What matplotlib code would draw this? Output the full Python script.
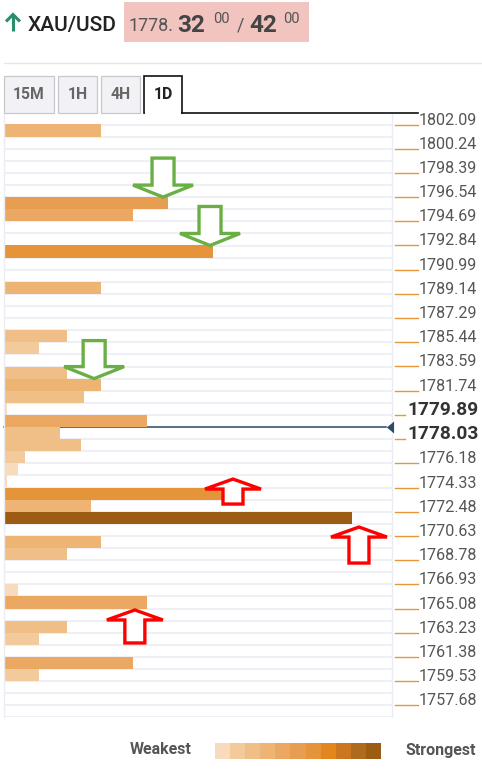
import math
import matplotlib
matplotlib.use("Agg")
import matplotlib.pyplot as plt
from matplotlib.patches import Rectangle, Polygon
from matplotlib.lines import Line2D
import matplotlib.transforms as mtransforms

plt.rcParams['font.family'] = ['Roboto', 'DejaVu Sans']

# price scale labels (top to bottom)
price_labels = [1802.09, 1800.24, 1798.39, 1796.54, 1794.69, 1792.84, 1790.99,
                1789.14, 1787.29, 1785.44, 1783.59, 1781.74, 1779.89, 1778.03,
                1776.18, 1774.33, 1772.48, 1770.63, 1768.78, 1766.93, 1765.08,
                1763.23, 1761.38, 1759.53, 1757.68]
bold_labels = [1779.89, 1778.03]
current_price = 1778.96

# confluence levels: mid price of each band and its strength score (0-100)
level_prices = [1801.63, 1796.08, 1795.15, 1792.38, 1789.60, 1785.90, 1784.97,
                1783.12, 1782.20, 1781.27, 1780.35, 1779.42, 1778.50, 1777.57,
                1776.65, 1775.72, 1774.80, 1773.87, 1772.95, 1772.02, 1770.17,
                1769.25, 1766.47, 1765.54, 1763.69, 1762.77, 1760.92, 1759.99]
level_scores = [28, 47, 37, 60, 28, 18, 10,
                18, 28, 23, 1, 41, 16, 22,
                6, 4, 1, 63, 25, 100, 28,
                18, 4, 41, 18, 10, 37, 10]

# annotation arrows: (score at tip, price at tip, direction, length px)
arrows = [(45.7, 1796.54, 'down', 39), (59.2, 1792.84, 'down', 39),
          (25.9, 1782.66, 'down', 38), (65.8, 1774.98, 'up', 25),
          (102.0, 1771.31, 'up', 36), (37.6, 1764.97, 'up', 33)]

palette = ['#F8DBBC', '#F3CA9C', '#F0BF88', '#EDB474', '#EAA862', '#E89E50',
           '#E6943A', '#E3861E', '#CC7720', '#B06A1C', '#9C5C14']

W, H = 482, 770
fig = plt.figure(figsize=(W / 100, H / 100), dpi=100)

top_px, bot_px, left_px, right_px = 113, 717.4, 4, 392
ax = fig.add_axes([left_px / W, (H - bot_px) / H, (right_px - left_px) / W,
                   (bot_px - top_px) / H])

row = (price_labels[0] - price_labels[-1]) / 48
n_rows = 49
y_bottom = price_labels[0] - row * n_rows
y_top = price_labels[0] + row * (124.5 - top_px) / 12.1
ax.set_ylim(y_bottom, y_top)
ax.set_xlim(0, 100 * (right_px - left_px) / 348)

# row gridlines
for i in range(n_rows + 1):
    ax.axhline(price_labels[0] - i * row, color='#EFEFF5', lw=1.5, zorder=1)

bt = mtransforms.blended_transform_factory(ax.transAxes, ax.transData)

# current price line
ax.plot([0, 0.985], [current_price, current_price], color='#2D4A6B', lw=1.1,
        transform=bt, zorder=2, clip_on=False)
ax.plot([0.9936], [current_price], marker=[(-0.6, 0), (0.6, 1), (0.6, -1), (-0.6, 0)],
        markersize=8.6, color='#2D4A6B', markeredgewidth=0,
        transform=bt, zorder=3, clip_on=False)

# bars
colors = [palette[min(10, int(s / 10 + 0.5))] for s in level_scores]
ax.barh(level_prices, level_scores, height=row, color=colors, left=0, zorder=2,
        linewidth=0)

# tick marks and labels on the right
for p in price_labels:
    if p in bold_labels:
        ax.plot([1.0077, 1.0335], [p, p], color='#E9963A', lw=1.0, transform=bt, clip_on=False)
        ax.text(1.0387, p, f'{p:.2f}', transform=bt, ha='left', va='baseline',
                fontsize=13.8, fontweight='bold', color='#333333', clip_on=False)
    else:
        ax.plot([1.0077, 1.067], [p, p], color='#E9963A', lw=1.0, transform=bt, clip_on=False)
        ax.text(1.0696, p, f'{p:.2f}', transform=bt, ha='left', va='baseline',
                fontsize=11.6, color='#555555', clip_on=False)

ax.set_xticks([])
ax.set_yticks([])
for side in ['top', 'bottom']:
    ax.spines[side].set_visible(False)
for side in ['left', 'right']:
    ax.spines[side].set_color('#EBEBF2')
    ax.spines[side].set_linewidth(1.0)

# overlay in pixel coordinates
ov = fig.add_axes([0, 0, 1, 1], zorder=5)
ov.set_xlim(0, W)
ov.set_ylim(H, 0)
ov.axis('off')

# header
green = '#2A8D6C'
ov.add_line(Line2D([13, 13], [31, 15], color=green, lw=2.2, solid_capstyle='butt'))
ov.add_line(Line2D([6, 13, 20], [21.5, 14.5, 21.5], color=green, lw=2.2,
                   solid_joinstyle='miter', solid_capstyle='butt'))
ov.text(28, 31, 'XAU/USD', fontsize=15, fontweight='medium', color='#222222',
        ha='left', va='baseline')
ov.add_patch(Rectangle((124, 2), 185, 40, facecolor='#F2C4BF', edgecolor='none'))
ov.text(129, 31, '1778.', fontsize=13, color='#555555', ha='left', va='baseline')
ov.text(177, 32, '32', fontsize=17.5, fontweight='bold', color='#444444', ha='left', va='baseline')
ov.text(213, 23, '00', fontsize=10.5, color='#555555', ha='left', va='baseline')
ov.text(237, 31, '/', fontsize=13, color='#555555', ha='left', va='baseline')
ov.text(249, 32, '42', fontsize=17.5, fontweight='bold', color='#444444', ha='left', va='baseline')
ov.text(283, 23, '00', fontsize=10.5, color='#555555', ha='left', va='baseline')
ov.add_line(Line2D([4, 482], [63, 63], color='#E6E6EC', lw=1.0))

# tabs
tabs = ['15M', '1H', '4H', '1D']
tab_x = [(4, 54), (58, 97), (101, 140), (144, 182)]
for name, (x0, x1) in zip(tabs, tab_x):
    active = name == '1D'
    ov.add_patch(Rectangle((x0, 76), x1 - x0, 37,
                           facecolor='white' if active else '#F2F2F6',
                           edgecolor='#111111' if active else '#C8C8CC',
                           lw=1.2 if active else 0.9))
    ov.text((x0 + x1) / 2, 99, name, fontsize=11.3, fontweight='bold',
            color='#222222' if active else '#666666', ha='center', va='baseline')
ov.add_patch(Rectangle((145, 111.5), 36, 3, facecolor='white', edgecolor='none'))
ov.add_line(Line2D([182, 418], [113, 113], color='#111111', lw=1.2))

# arrows anchored to the chart data
def to_px(x, y):
    dx, dy = ax.transData.transform((x, y))
    return dx, H - dy

for sx, py, direction, length in arrows:
    tx, ty = to_px(sx, py)
    if direction == 'down':
        hw, sw, hl, col, sgn = 30, 11, 12, '#6AAF45', 1
    else:
        hw, sw, hl, col, sgn = 28, 10, 10, '#FF0000', -1
    pts = [(tx, ty), (tx - hw, ty - sgn * hl), (tx - sw, ty - sgn * hl),
           (tx - sw, ty - sgn * length), (tx + sw, ty - sgn * length),
           (tx + sw, ty - sgn * hl), (tx + hw, ty - sgn * hl)]
    ov.add_patch(Polygon(pts, closed=True, facecolor='white', edgecolor=col,
                         lw=2.4, joinstyle='miter'))

# strength legend
sw_x0, sw_x1 = 215, 381
step = (sw_x1 - sw_x0) / len(palette)
for i, c in enumerate(palette):
    ov.add_patch(Rectangle((sw_x0 + i * step, 743), step + 0.3, 15.5,
                           facecolor=c, edgecolor='none'))
ov.text(191, 754.5, 'Weakest', fontsize=11.5, fontweight='bold', color='#555555',
        ha='right', va='baseline')
ov.text(405, 754.5, 'Strongest', fontsize=11.5, fontweight='bold', color='#555555',
        ha='left', va='baseline')

fig.savefig('out.png', dpi=100)
